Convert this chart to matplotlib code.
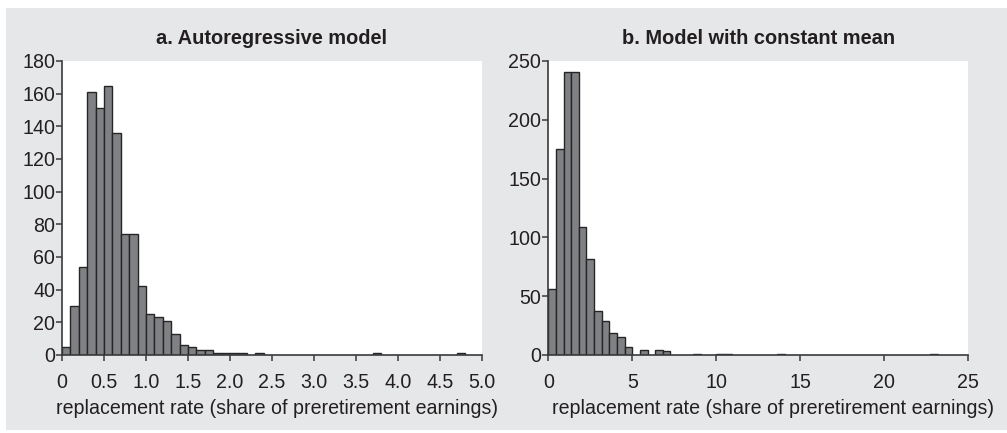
import numpy as np
import matplotlib.pyplot as plt
from matplotlib.patches import Rectangle

plt.rcParams['font.family'] = ['Liberation Sans', 'DejaVu Sans']

# Panel a: counts per bin of width 0.1 starting at 0
ar_width = 0.1
ar_counts = [5, 30, 54, 161, 151, 165, 136, 74, 74, 42,
             25, 23, 21, 13, 6, 5, 3, 3, 1, 1,
             1, 1, 0, 1, 0, 0, 0, 0, 0, 0,
             0, 0, 0, 0, 0, 0, 0, 1, 0, 0,
             0, 0, 0, 0, 0, 0, 0, 1]
ar_xticks = [0, 0.5, 1.0, 1.5, 2.0, 2.5, 3.0, 3.5, 4.0, 4.5, 5.0]
ar_xlabels = ['0', '0.5', '1.0', '1.5', '2.0', '2.5', '3.0', '3.5', '4.0', '4.5', '5.0']
ar_yticks = [0, 20, 40, 60, 80, 100, 120, 140, 160, 180]

# Panel b: counts per bin of width 5/11 starting at 0
cm_width = 5 / 11
cm_counts = [56, 175, 241, 241, 109, 82, 37, 29, 19, 15,
             7, 0, 4, 0, 4, 3, 0, 0, 0, 1,
             0, 0, 1, 1, 0, 0, 0, 0, 0, 0,
             1, 0, 0, 0, 0, 0, 0, 0, 0, 0,
             0, 0, 0, 0, 0, 0, 0, 0, 0, 0,
             1]
cm_xticks = [0, 5, 10, 15, 20, 25]
cm_yticks = [0, 50, 100, 150, 200, 250]

titles = ['a. Autoregressive model', 'b. Model with constant mean']
xlabel = 'replacement rate (share of preretirement earnings)'

W, H = 1007, 433
fig = plt.figure(figsize=(W / 100, H / 100), dpi=100)
fig.patch.set_facecolor('white')
fig.patches.append(Rectangle((6 / W, 3 / H), 1 - 6 / W, (430 - 8) / H,
                             transform=fig.transFigure, facecolor='#e6e7e8',
                             edgecolor='none', zorder=-10))

ink = '#231f20'
fs = 14.1


def draw_panel(ax, counts, width, xticks, xlabels, yticks, title, label_x):
    counts = np.asarray(counts, dtype=float)
    left = np.arange(len(counts)) * width
    keep = counts > 0
    ax.bar(left[keep], counts[keep], width=width, align='edge',
           color='#808184', edgecolor='#262626', linewidth=1.0, zorder=2)
    ax.set_facecolor('white')
    ax.set_xlim(xticks[0], xticks[-1])
    ax.set_ylim(yticks[0], yticks[-1])
    ax.set_xticks(xticks)
    ax.set_xticklabels(xlabels)
    ax.set_yticks(yticks)
    for s in ['top', 'right']:
        ax.spines[s].set_visible(False)
    for s in ['left', 'bottom']:
        ax.spines[s].set_color('#3a3a3a')
        ax.spines[s].set_linewidth(1.2)
        ax.spines[s].set_zorder(3)
    ax.tick_params(axis='x', direction='out', length=4, width=1.1,
                   color='#3a3a3a', labelsize=fs, labelcolor=ink, pad=9)
    ax.tick_params(axis='y', direction='out', length=4, width=1.1,
                   color='#3a3a3a', labelsize=fs, labelcolor=ink, pad=1)
    ax.set_xlabel(xlabel, fontsize=fs, color=ink, labelpad=5)
    ax.xaxis.label.set_x(label_x)
    ax.set_title(title, fontsize=14.4, fontweight='bold', color=ink, pad=12)


ax1 = fig.add_axes([62 / W, 1 - 355 / H, 420 / W, 294 / H])
draw_panel(ax1, ar_counts, ar_width, ar_xticks, ar_xlabels, ar_yticks,
           titles[0], 0.512)

ax2 = fig.add_axes([548.3 / W, 1 - 355 / H, 420 / W, 294 / H])
draw_panel(ax2, cm_counts, cm_width, cm_xticks, [str(t) for t in cm_xticks],
           cm_yticks, titles[1], 0.534)

fig.savefig('out.png', dpi=100)
